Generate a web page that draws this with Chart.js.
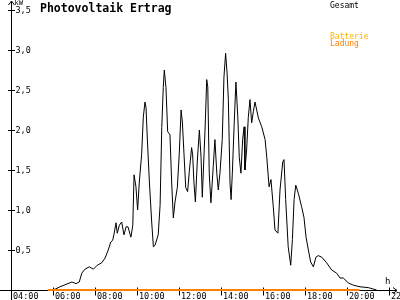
<!DOCTYPE html>
<html>
<head>
<meta charset="utf-8">
<script src="https://cdn.jsdelivr.net/npm/chart.js@4/dist/chart.umd.min.js"></script>
<style>
  html, body { margin: 0; padding: 0; background: #fff; }
  #wrap { width: 400px; height: 300px; }
</style>
</head>
<body>
<div id="wrap"><canvas id="pvChart" width="400" height="300"></canvas></div>
<script>
// Uhrzeit in Stunden, Leistung in kW
const gesamtZeit = [
    5.76, 6.10, 6.33, 6.71, 6.90, 7.10, 7.25, 7.37, 7.52, 7.73, 7.92, 8.11, 8.32, 8.48, 8.63, 8.75,
    8.84, 8.90, 9.00, 9.06, 9.16, 9.27, 9.38, 9.48, 9.57, 9.71, 9.80, 9.86, 9.95, 10.03, 10.11, 10.22,
    10.30, 10.38, 10.43, 10.49, 10.59, 10.70, 10.78, 10.86, 11.01, 11.10, 11.18, 11.25, 11.30, 11.38, 11.46, 11.57,
    11.65, 11.73, 11.81, 11.92, 12.01, 12.10, 12.16, 12.24, 12.32, 12.41, 12.49, 12.60, 12.65, 12.71, 12.78, 12.87,
    12.97, 13.05, 13.11, 13.20, 13.24, 13.32, 13.37, 13.44, 13.52, 13.63, 13.71, 13.80, 13.87, 13.95, 14.06, 14.14,
    14.22, 14.29, 14.35, 14.43, 14.48, 14.54, 14.63, 14.71, 14.80, 14.87, 14.95, 15.03, 15.10, 15.14, 15.22, 15.30,
    15.38, 15.46, 15.54, 15.62, 15.78, 15.94, 16.10, 16.18, 16.29, 16.38, 16.49, 16.57, 16.71, 16.81, 16.94, 17.00,
    17.08, 17.20, 17.32, 17.40, 17.48, 17.56, 17.68, 17.84, 17.95, 18.05, 18.16, 18.27, 18.40, 18.52, 18.63, 18.80,
    19.03, 19.27, 19.51, 19.67, 19.82, 20.06, 20.30, 20.62, 21.01, 21.41
];
const gesamtWerte = [
    0.00, 0.01, 0.04, 0.08, 0.10, 0.08, 0.10, 0.21, 0.26, 0.29, 0.26, 0.31, 0.34, 0.40, 0.50, 0.60,
    0.62, 0.69, 0.84, 0.71, 0.81, 0.85, 0.69, 0.79, 0.79, 0.66, 0.81, 1.44, 1.29, 1.00, 1.35, 1.69,
    2.16, 2.35, 2.28, 1.90, 1.35, 0.85, 0.54, 0.56, 0.69, 1.06, 2.03, 2.53, 2.75, 2.53, 1.98, 1.94,
    1.35, 0.90, 1.10, 1.28, 1.69, 2.25, 2.10, 1.69, 1.28, 1.23, 1.48, 1.78, 1.69, 1.35, 1.10, 1.60,
    2.00, 1.66, 1.16, 1.75, 2.00, 2.63, 2.54, 1.46, 1.09, 1.54, 1.88, 1.46, 1.25, 1.46, 1.88, 2.66,
    2.96, 2.71, 2.38, 1.34, 1.13, 1.46, 2.09, 2.60, 2.16, 1.66, 1.46, 1.88, 2.04, 1.50, 1.75, 2.16,
    2.38, 2.09, 2.23, 2.35, 2.15, 2.04, 1.88, 1.66, 1.29, 1.38, 1.04, 0.75, 0.71, 1.25, 1.60, 1.63,
    1.13, 0.54, 0.31, 0.63, 1.13, 1.31, 1.21, 1.04, 0.91, 0.66, 0.50, 0.35, 0.29, 0.41, 0.43, 0.41,
    0.34, 0.25, 0.21, 0.15, 0.15, 0.09, 0.06, 0.04, 0.03, 0.00
];
const batterieZeit = [5.75, 20.6];
const batterieWerte = [0, 0];

const yTicks = [0.5, 1.0, 1.5, 2.0, 2.5, 3.0, 3.5];
const yTickLabels = ['0,5', '1,0', '1,5', '2,0', '2,5', '3,0', '3,5'];
const xTicks = [4, 6, 8, 10, 12, 14, 16, 18, 20, 22];
const xTickLabels = ['04:00', '06:00', '08:00', '10:00', '12:00', '14:00', '16:00', '18:00', '20:00', '22:00'];

const MONO = '"DejaVu Sans Mono", "Liberation Mono", monospace';

const toPoints = (xs, ys) => xs.map((t, i) => ({ x: t, y: ys[i] }));

// Achsen, Pfeile, Beschriftungen
const axesPlugin = {
    id: 'pvAxes',
    beforeDatasetsDraw(chart) {
        const { ctx, scales: { x, y } } = chart;
        const x0 = Math.round(x.getPixelForValue(4)) + 0.5;
        const y0 = Math.round(y.getPixelForValue(0)) + 0.5;
        ctx.save();
        ctx.strokeStyle = '#000';
        ctx.lineWidth = 1;
        ctx.beginPath();
        // y-Achse mit Pfeil
        ctx.moveTo(x0, 1); ctx.lineTo(x0, 300);
        ctx.moveTo(x0 - 3, 5); ctx.lineTo(x0, 1); ctx.lineTo(x0 + 3, 5);
        // x-Achse mit Pfeil
        ctx.moveTo(0, y0); ctx.lineTo(397, y0);
        ctx.moveTo(393, y0 - 3); ctx.lineTo(397, y0); ctx.lineTo(393, y0 + 3);
        yTicks.forEach(v => {
            const py = Math.round(y.getPixelForValue(v)) + 0.5;
            ctx.moveTo(x0 - 3.5, py); ctx.lineTo(x0 + 3.5, py);
        });
        xTicks.forEach(h => {
            const px = Math.round(x.getPixelForValue(h)) + 0.5;
            ctx.moveTo(px, y0 - 3); ctx.lineTo(px, y0 + 5);
        });
        ctx.stroke();

        ctx.fillStyle = '#000';
        ctx.font = '8.5px ' + MONO;
        ctx.textAlign = 'left';
        ctx.textBaseline = 'middle';
        yTicks.forEach((v, i) => {
            ctx.fillText(yTickLabels[i], x0 + 4, Math.round(y.getPixelForValue(v)) + 0.5);
        });
        ctx.textBaseline = 'top';
        xTicks.forEach((h, i) => {
            ctx.fillText(xTickLabels[i], Math.round(x.getPixelForValue(h)) + 2, y0 + 2);
        });
        ctx.textBaseline = 'alphabetic';
        ctx.font = '7px ' + MONO;
        ctx.fillText('kW', x0 + 3, 5);
        ctx.font = '9px ' + MONO;
        ctx.fillText('h', 385, 284);

        // Titel
        ctx.font = 'bold 11.5px ' + MONO;
        ctx.fillText('Photovoltaik Ertrag', 40, 12);

        // Legende
        ctx.font = '8px ' + MONO;
        ctx.fillStyle = '#000';
        ctx.fillText(chart.data.datasets[0].label, 330, 8);
        const parts = chart.data.datasets[1].label.split(' ');
        ctx.fillStyle = '#ffb400';
        ctx.fillText(parts[0], 330, 39);
        ctx.fillStyle = '#ff8000';
        ctx.fillText(parts[1], 330, 46);
        ctx.restore();
    }
};

new Chart(document.getElementById('pvChart'), {
    type: 'line',
    data: {
        datasets: [{
            label: 'Gesamt',
            data: toPoints(gesamtZeit, gesamtWerte),
            borderColor: '#000',
            borderWidth: 1,
            pointRadius: 0,
            tension: 0,
            fill: false,
            clip: false,
            order: 1
        }, {
            label: 'Batterie Ladung',
            data: toPoints(batterieZeit, batterieWerte),
            borderColor: '#ff8000',
            borderWidth: 2,
            pointRadius: 0,
            tension: 0,
            fill: false,
            clip: false,
            order: 0
        }]
    },
    options: {
        responsive: false,
        animation: false,
        events: [],
        layout: { padding: { left: 11, right: 11, top: 10, bottom: 10 } },
        scales: {
            x: { type: 'linear', min: 4, max: 22, display: false },
            y: { type: 'linear', min: 0, max: 3.5, display: false }
        },
        plugins: {
            legend: { display: false },
            title: { display: false },
            tooltip: { enabled: false }
        }
    },
    plugins: [axesPlugin]
});
</script>
</body>
</html>
